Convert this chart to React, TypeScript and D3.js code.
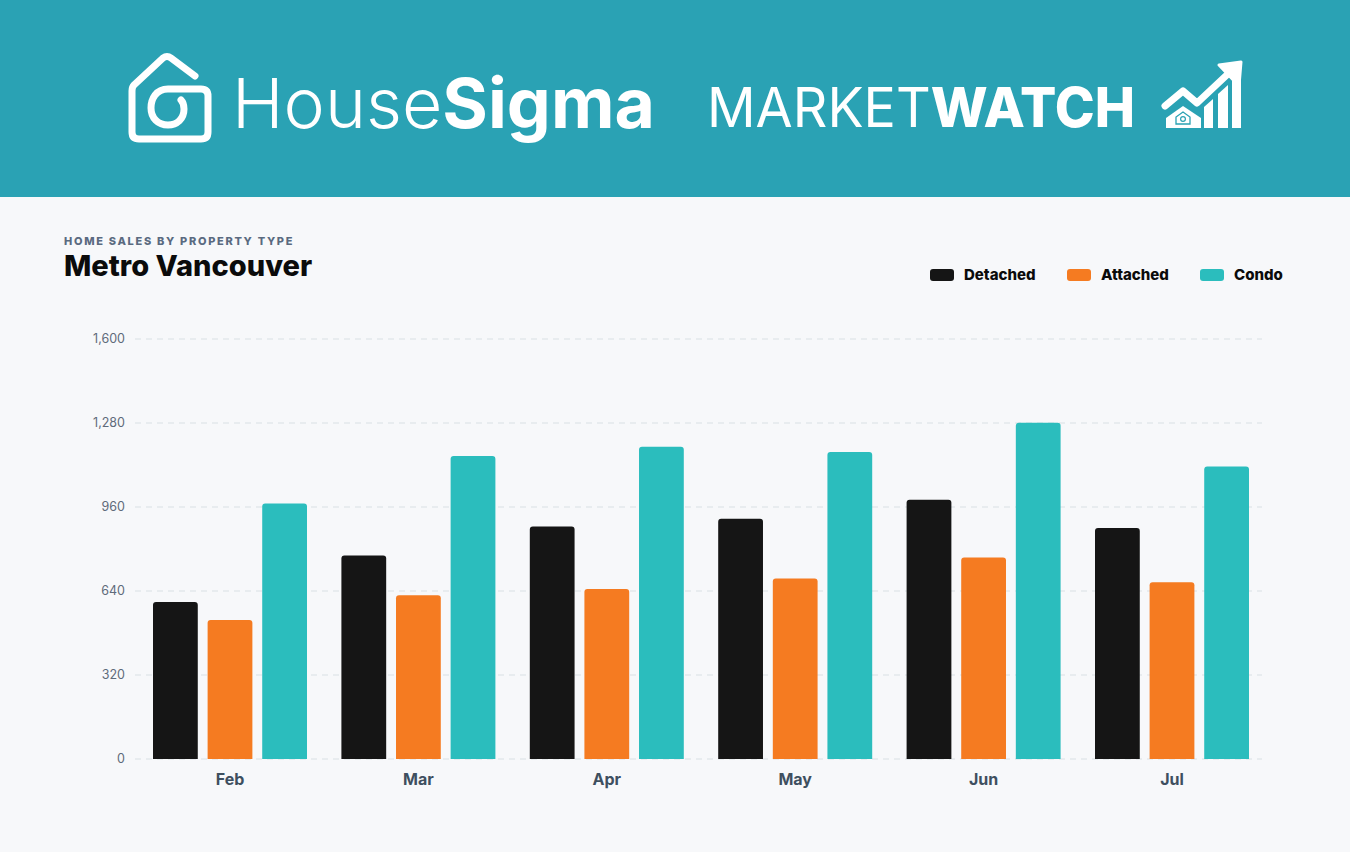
import React from "react";
import * as d3 from "d3";

const months = ["Feb", "Mar", "Apr", "May", "Jun", "Jul"];
const seriesNames = ["Detached", "Attached", "Condo"];
const detached = [598, 775, 886, 915, 988, 880];
const attached = [530, 624, 648, 688, 768, 673];
const condo = [973, 1154, 1190, 1170, 1281, 1114];
const tickValues = [0, 320, 640, 960, 1280, 1600];

const colors = ["#151515", "#f57b21", "#2bbdbd"];
const W = 1350;
const H = 852;
const FONT = "Inter, 'Open Sans', sans-serif";

const table = months.map((m, i) => ({
  month: m,
  values: [detached[i], attached[i], condo[i]],
}));

// bar with rounded top corners only
const topRounded = (x: number, y: number, w: number, h: number, r: number) => {
  const rr = Math.min(r, h, w / 2);
  return `M${x},${y + h}V${y + rr}Q${x},${y} ${x + rr},${y}H${x + w - rr}Q${x + w},${y} ${x + w},${y + rr}V${y + h}Z`;
};

const Header = () => (
  <g>
    <rect x={0} y={0} width={W} height={197} fill="#2aa2b4" />
    {/* house logo */}
    <path
      d="M195,76 L171,58 Q167,55 163,58 L134,85 Q132,87 132,91 L132,132 Q132,139 139,139 L201,139 Q208,139 208,132 L208,96 Q208,89 201,89 L168,89 C156,89 151,99 151,108 C151,118 158,125 168,125 C177,125 184,119 184,109 C184,105 183,102 181,100"
      fill="none"
      stroke="#fff"
      strokeWidth={7}
      strokeLinecap="round"
      strokeLinejoin="round"
    />
    <text x={232} y={128} fill="#fff" fontFamily={FONT} fontSize={69} textLength={423} lengthAdjust="spacingAndGlyphs">
      <tspan fontWeight={300}>House</tspan>
      <tspan fontWeight={700}>Sigma</tspan>
    </text>
    <text x={707} y={127} fill="#fff" fontFamily={FONT} fontSize={55} textLength={428} lengthAdjust="spacingAndGlyphs">
      <tspan fontWeight={400}>MARKET</tspan>
      <tspan fontWeight={800}>WATCH</tspan>
    </text>
    {/* market watch icon */}
    <polyline
      points="1165,106 1183,91 1197,103 1230,72"
      fill="none"
      stroke="#fff"
      strokeWidth={7}
      strokeLinecap="round"
      strokeLinejoin="round"
    />
    <polygon points="1241,62 1219,65 1239,86" fill="#fff" stroke="#fff" strokeWidth={3} strokeLinejoin="round" />
    <polygon points="1183,106 1201,118 1201,128 1166,128 1166,118" fill="#fff" />
    <path d="M1176,124 V117 L1183,112 L1190,117 V124 Z" fill="none" stroke="#2aa2b4" strokeWidth={1.3} />
    <circle cx={1183} cy={119} r={2.4} fill="none" stroke="#2aa2b4" strokeWidth={1.2} />
    <polygon points="1204,107 1213,99 1213,128 1204,128" fill="#fff" />
    <polygon points="1218,94 1228,85 1228,128 1218,128" fill="#fff" />
    <polygon points="1232,81 1241,73 1241,128 1232,128" fill="#fff" />
  </g>
);

const App = () => {
  const y = d3.scaleLinear().domain([0, 1600]).range([759, 339]);
  const x0 = d3.scaleBand<string>().domain(months).range([153, 1249]).paddingInner(0.1826).paddingOuter(0);
  const x1 = d3.scaleBand<string>().domain(seriesNames).range([0, x0.bandwidth()]).paddingInner(0.18);
  const fmt = d3.format(",");
  const legendX = [930, 1067, 1200];

  return (
    <svg width={W} height={H} style={{ position: "absolute", left: 0, top: 0, display: "block" }}>
      <rect x={0} y={0} width={W} height={H} fill="#f7f8fa" />
      <Header />

      <text x={64} y={245} fontFamily={FONT} fontSize={11} fontWeight={800} fill="#5a6a80" letterSpacing={1.7}>
        HOME SALES BY PROPERTY TYPE
      </text>
      <text x={64} y={276} fontFamily={FONT} fontSize={29} fontWeight={800} fill="#0b0b0b">
        Metro Vancouver
      </text>

      {seriesNames.map((s, i) => (
        <g key={s}>
          <rect x={legendX[i]} y={269} width={24} height={12} rx={3} fill={colors[i]} />
          <text x={legendX[i] + 34} y={280} fontFamily={FONT} fontSize={15} fontWeight={800} fill="#0b0b0b">
            {s}
          </text>
        </g>
      ))}

      {tickValues.map((t) => (
        <g key={t}>
          <line x1={135} x2={1262} y1={y(t)} y2={y(t)} stroke="#e4e7eb" strokeWidth={1.5} strokeDasharray="6 5" />
          <text x={125} y={y(t)} dy="0.35em" textAnchor="end" fontFamily={FONT} fontSize={12.5} fill="#5f6b7a">
            {fmt(t)}
          </text>
        </g>
      ))}

      {table.map((d) => (
        <g key={d.month} transform={`translate(${x0(d.month)},0)`}>
          {d.values.map((v, i) => (
            <path
              key={seriesNames[i]}
              d={topRounded(x1(seriesNames[i])!, y(v), x1.bandwidth(), y(0) - y(v), 3)}
              fill={colors[i]}
            />
          ))}
          <text
            x={x0.bandwidth() / 2}
            y={785}
            textAnchor="middle"
            fontFamily={FONT}
            fontSize={16}
            fontWeight={700}
            fill="#3e4f5f"
          >
            {d.month}
          </text>
        </g>
      ))}
    </svg>
  );
};

export default App;
